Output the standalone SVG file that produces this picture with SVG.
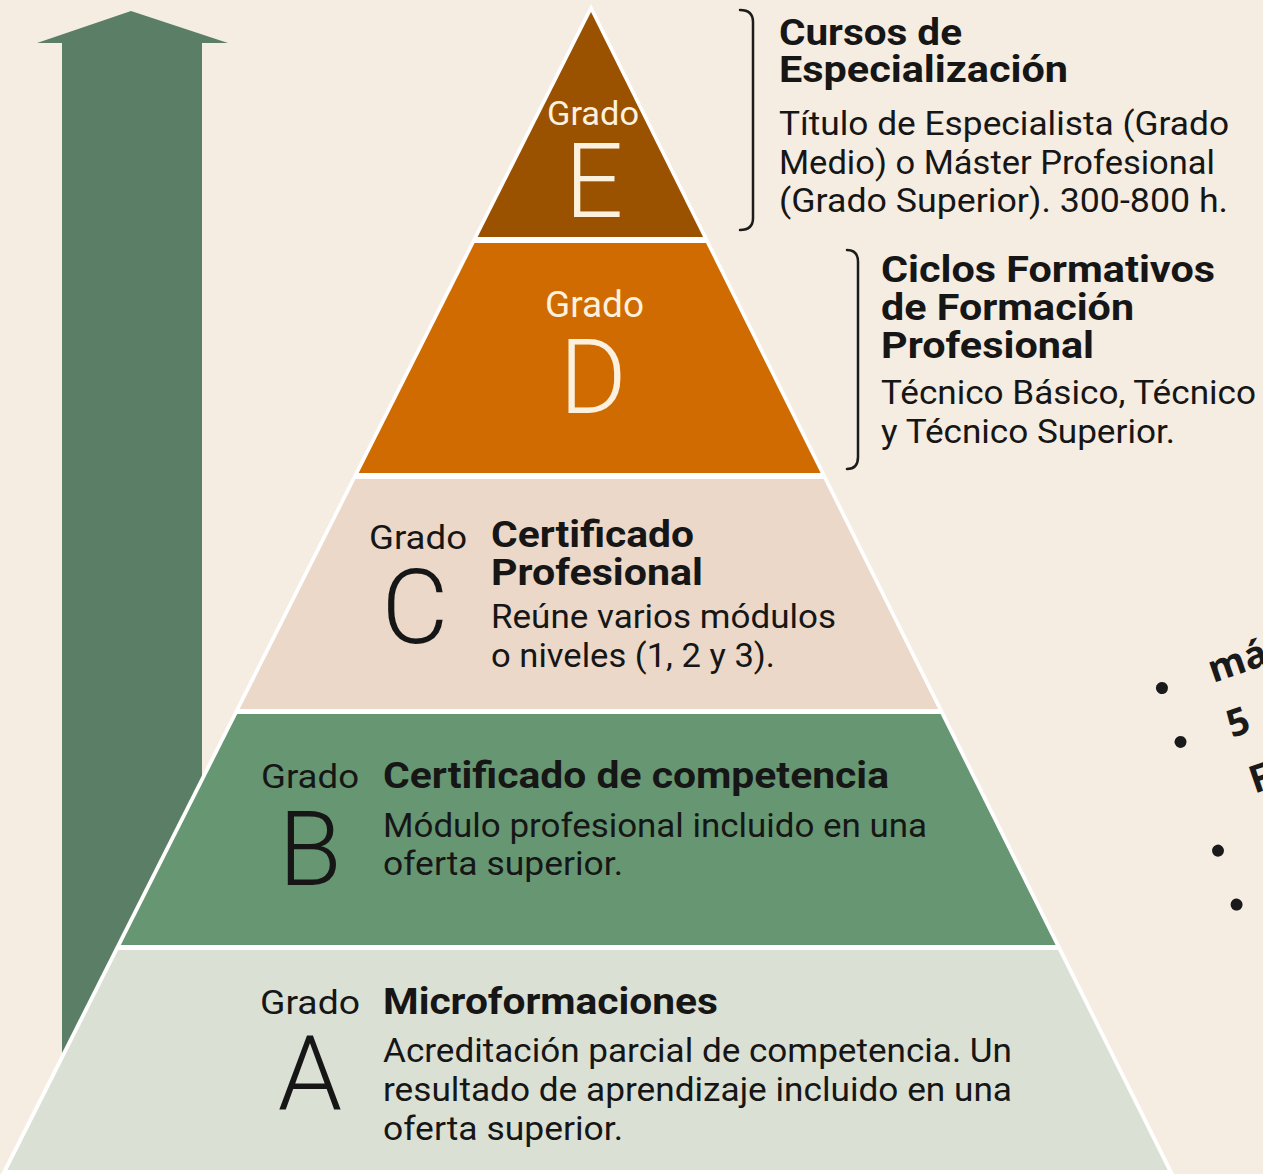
<svg xmlns="http://www.w3.org/2000/svg" width="1263" height="1174" viewBox="0 0 1263 1174">
<style>
.t{font-family:Roboto,"Liberation Sans",sans-serif;fill:#161616}
.r{font-size:34px;font-weight:400}
.b{font-size:36px;font-weight:700}
.w{fill:#fcf1de}
.big{font-size:103px;font-weight:300;text-anchor:middle}
.br{fill:none;stroke:#1c1c1c;stroke-width:2.5;stroke-linecap:round}
.bul{font-family:"Open Sans","Liberation Sans",sans-serif;font-weight:700;font-size:38px;fill:#1a1a1a}
</style>
<rect width="1263" height="1174" fill="#f5ece2"/>
<g id="arrow"><polygon points="131,11 228,43 202,43 202,1174 62,1174 62,43 37,43" fill="#5b7f66"/></g>
<polygon id="outline" points="591,4 1,1174 1174,1174" fill="#ffffff"/>

<g id="grado-e">
<polygon points="591,12 703.1,237 477.6,237" fill="#9b5200"/>
<text class="t w" x="547" y="125" font-size="33" textLength="92" lengthAdjust="spacingAndGlyphs">Grado</text>
<text class="t w big" x="594" y="217">E</text>
</g>
<g id="grado-d">
<polygon points="474.6,243 706,243 820.6,473 358.7,473" fill="#cf6b00"/>
<text class="t w" x="545" y="317" font-size="36" textLength="99" lengthAdjust="spacingAndGlyphs">Grado</text>
<text class="t w big" x="593" y="413">D</text>
</g>
<g id="grado-c">
<polygon points="355.6,479 823.6,479 938.1,709 239.7,709" fill="#ebd8c8"/>
<text class="t r" x="369" y="549" textLength="98" lengthAdjust="spacingAndGlyphs">Grado</text>
<text class="t big" x="415" y="643">C</text>
<text class="t b" x="491" y="547" textLength="203" lengthAdjust="spacingAndGlyphs">Certificado</text>
<text class="t b" x="491" y="585" textLength="212" lengthAdjust="spacingAndGlyphs">Profesional</text>
<text class="t r" x="491" y="628" textLength="345" lengthAdjust="spacingAndGlyphs">Reúne varios módulos</text>
<text class="t r" x="491" y="667" textLength="284" lengthAdjust="spacingAndGlyphs">o niveles (1, 2 y 3).</text>
</g>
<g id="grado-b">
<polygon points="237.2,714 940.6,714 1055.6,945 120.8,945" fill="#669672"/>
<text class="t r" x="261" y="788" textLength="98" lengthAdjust="spacingAndGlyphs">Grado</text>
<text class="t big" x="310" y="885">B</text>
<text class="t b" x="383" y="788" textLength="506" lengthAdjust="spacingAndGlyphs">Certificado de competencia</text>
<text class="t r" x="383" y="837" textLength="544" lengthAdjust="spacingAndGlyphs">Módulo profesional incluido en una</text>
<text class="t r" x="383" y="875" textLength="240" lengthAdjust="spacingAndGlyphs">oferta superior.</text>
</g>
<g id="grado-a">
<polygon points="118.2,950 1058.1,950 1167.7,1170 7.4,1170" fill="#dbe0d4"/>
<text class="t r" x="260" y="1014" textLength="100" lengthAdjust="spacingAndGlyphs">Grado</text>
<text class="t big" x="310" y="1110">A</text>
<text class="t b" x="383" y="1014" textLength="335" lengthAdjust="spacingAndGlyphs">Microformaciones</text>
<text class="t r" x="383" y="1062" textLength="629" lengthAdjust="spacingAndGlyphs">Acreditación parcial de competencia. Un</text>
<text class="t r" x="383" y="1101" textLength="629" lengthAdjust="spacingAndGlyphs">resultado de aprendizaje incluido en una</text>
<text class="t r" x="383" y="1140" textLength="240" lengthAdjust="spacingAndGlyphs">oferta superior.</text>
</g>

<g id="connectors">
<path class="br" d="M740 10 C748 10 753 14 753 22 L753 218 C753 226 748 230 740 230"/>
<path class="br" d="M847 250 C854 250 858 254 858 262 L858 457 C858 465 854 469 847 469"/>
</g>

<g id="label-e">
<text class="t b" x="779" y="45" textLength="183" lengthAdjust="spacingAndGlyphs">Cursos de</text>
<text class="t b" x="779" y="82" textLength="289" lengthAdjust="spacingAndGlyphs">Especialización</text>
<text class="t r" x="779" y="135" textLength="450" lengthAdjust="spacingAndGlyphs">Título de Especialista (Grado</text>
<text class="t r" x="779" y="174" textLength="436" lengthAdjust="spacingAndGlyphs">Medio) o Máster Profesional</text>
<text class="t r" x="779" y="212" textLength="449" lengthAdjust="spacingAndGlyphs">(Grado Superior). 300-800 h.</text>
</g>
<g id="label-d">
<text class="t b" x="881" y="282" textLength="334" lengthAdjust="spacingAndGlyphs">Ciclos Formativos</text>
<text class="t b" x="881" y="320" textLength="253" lengthAdjust="spacingAndGlyphs">de Formación</text>
<text class="t b" x="881" y="358" textLength="213" lengthAdjust="spacingAndGlyphs">Profesional</text>
<text class="t r" x="881" y="404" textLength="375" lengthAdjust="spacingAndGlyphs">Técnico Básico, Técnico</text>
<text class="t r" x="881" y="443" textLength="294" lengthAdjust="spacingAndGlyphs">y Técnico Superior.</text>
</g>

<g id="bullets" transform="translate(1162 688) rotate(-19)">
<g fill="#1a1a1a">
<circle cx="0" cy="0" r="6"/>
<circle cx="0" cy="57" r="6"/>
<circle cx="0" cy="172" r="6"/>
<circle cx="0" cy="229" r="6"/>
</g>
<text class="bul" x="50" y="12">má</text>
<text class="bul" x="50" y="70">5</text>
<text class="bul" x="53" y="130">F</text>
</g>
</svg>
